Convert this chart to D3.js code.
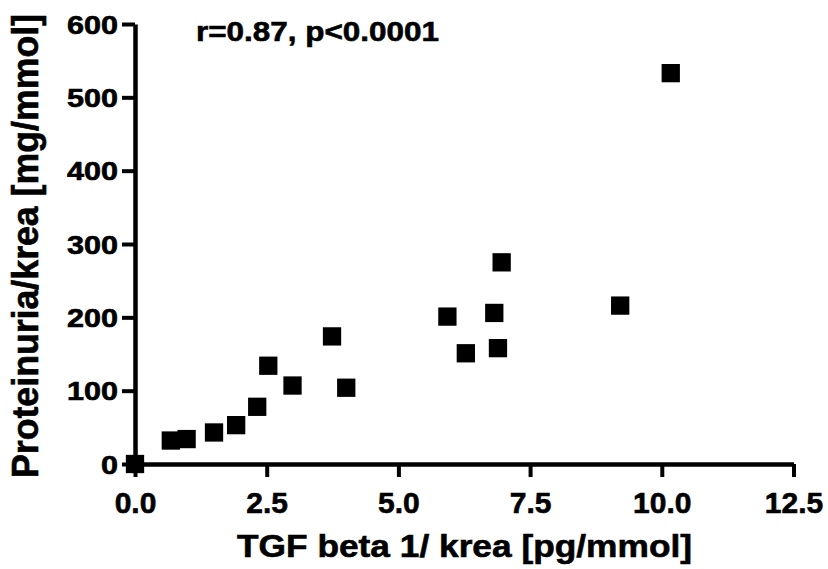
<!DOCTYPE html>
<html>
<head>
<meta charset="utf-8">
<script src="https://cdn.jsdelivr.net/npm/d3@7"></script>
<style>
  body { margin: 0; background: #fff; }
  text { font-family: "Liberation Sans", Arial, sans-serif; font-weight: bold; fill: #000; stroke: #000; stroke-width: 0.6px; }
</style>
</head>
<body>
<div id="vis"></div>
<script>
// values
var tgfBeta = [0, 0.68, 0.98, 1.50, 1.92, 2.32, 2.53, 2.99, 3.74, 4.01, 5.93, 6.28, 6.82, 6.89, 6.96, 9.21, 10.17];
var proteinuria = [0, 32, 34, 43, 53, 78, 134, 107, 174, 104, 201, 151, 206, 158, 275, 216, 533];
var xTicks = [0, 2.5, 5, 7.5, 10, 12.5];
var yTicks = [0, 100, 200, 300, 400, 500, 600];
var statText = 'r=0.87, p<0.0001';
var xTitle = 'TGF beta 1/ krea [pg/mmol]';
var yTitle = 'Proteinuria/krea [mg/mmol]';

var width = 828;
var height = 569;

var svg = d3.select('#vis').append('svg')
  .attr('width', width)
  .attr('height', height);

var x = d3.scaleLinear().domain([0, 12.5]).range([135, 793.5]);
var y = d3.scaleLinear().domain([0, 600]).range([464, 24]);

// x axis
var gx = svg.append('g')
  .attr('transform', 'translate(0,' + y(0) + ')')
  .call(d3.axisBottom(x)
    .tickValues(xTicks)
    .tickFormat(d3.format('.1f'))
    .tickSizeInner(13)
    .tickSizeOuter(0)
    .tickPadding(15));

// y axis
var gy = svg.append('g')
  .attr('transform', 'translate(' + x(0) + ',0)')
  .call(d3.axisLeft(y)
    .tickValues(yTicks)
    .tickFormat(d3.format('d'))
    .tickSizeInner(13)
    .tickSizeOuter(0)
    .tickPadding(4));

[gx, gy].forEach(function(g) {
  g.select('.domain').attr('stroke', '#000').attr('stroke-width', 4.5);
  g.selectAll('.tick line').attr('stroke', '#000').attr('stroke-width', 4);
});

gx.selectAll('.tick text')
  .style('font-size', '30px');

// the y tick labels are drawn wider than the font
gy.selectAll('.tick text')
  .style('font-size', '25px')
  .attr('dy', '0.36em')
  .attr('textLength', function(d) { return String(d).length * 17; })
  .attr('lengthAdjust', 'spacingAndGlyphs');

// markers
svg.append('g').selectAll('path')
  .data(tgfBeta)
  .enter()
  .append('path')
  .attr('d', d3.symbol().type(d3.symbolSquare).size(335))
  .attr('transform', function(d, i) {
    return 'translate(' + x(d) + ',' + y(proteinuria[i]) + ')';
  })
  .attr('fill', '#000');

// stats label
svg.append('text')
  .attr('x', 196)
  .attr('y', 41)
  .style('font-size', '28px')
  .attr('textLength', 243)
  .attr('lengthAdjust', 'spacingAndGlyphs')
  .text(statText);

// axis titles
svg.append('text')
  .attr('x', 464.5)
  .attr('y', 557)
  .attr('text-anchor', 'middle')
  .style('font-size', '32px')
  .attr('textLength', 455)
  .attr('lengthAdjust', 'spacingAndGlyphs')
  .text(xTitle);

svg.append('text')
  .attr('transform', 'translate(38,246) rotate(-90)')
  .attr('text-anchor', 'middle')
  .style('font-size', '36px')
  .attr('textLength', 464)
  .attr('lengthAdjust', 'spacingAndGlyphs')
  .text(yTitle);
</script>
</body>
</html>
